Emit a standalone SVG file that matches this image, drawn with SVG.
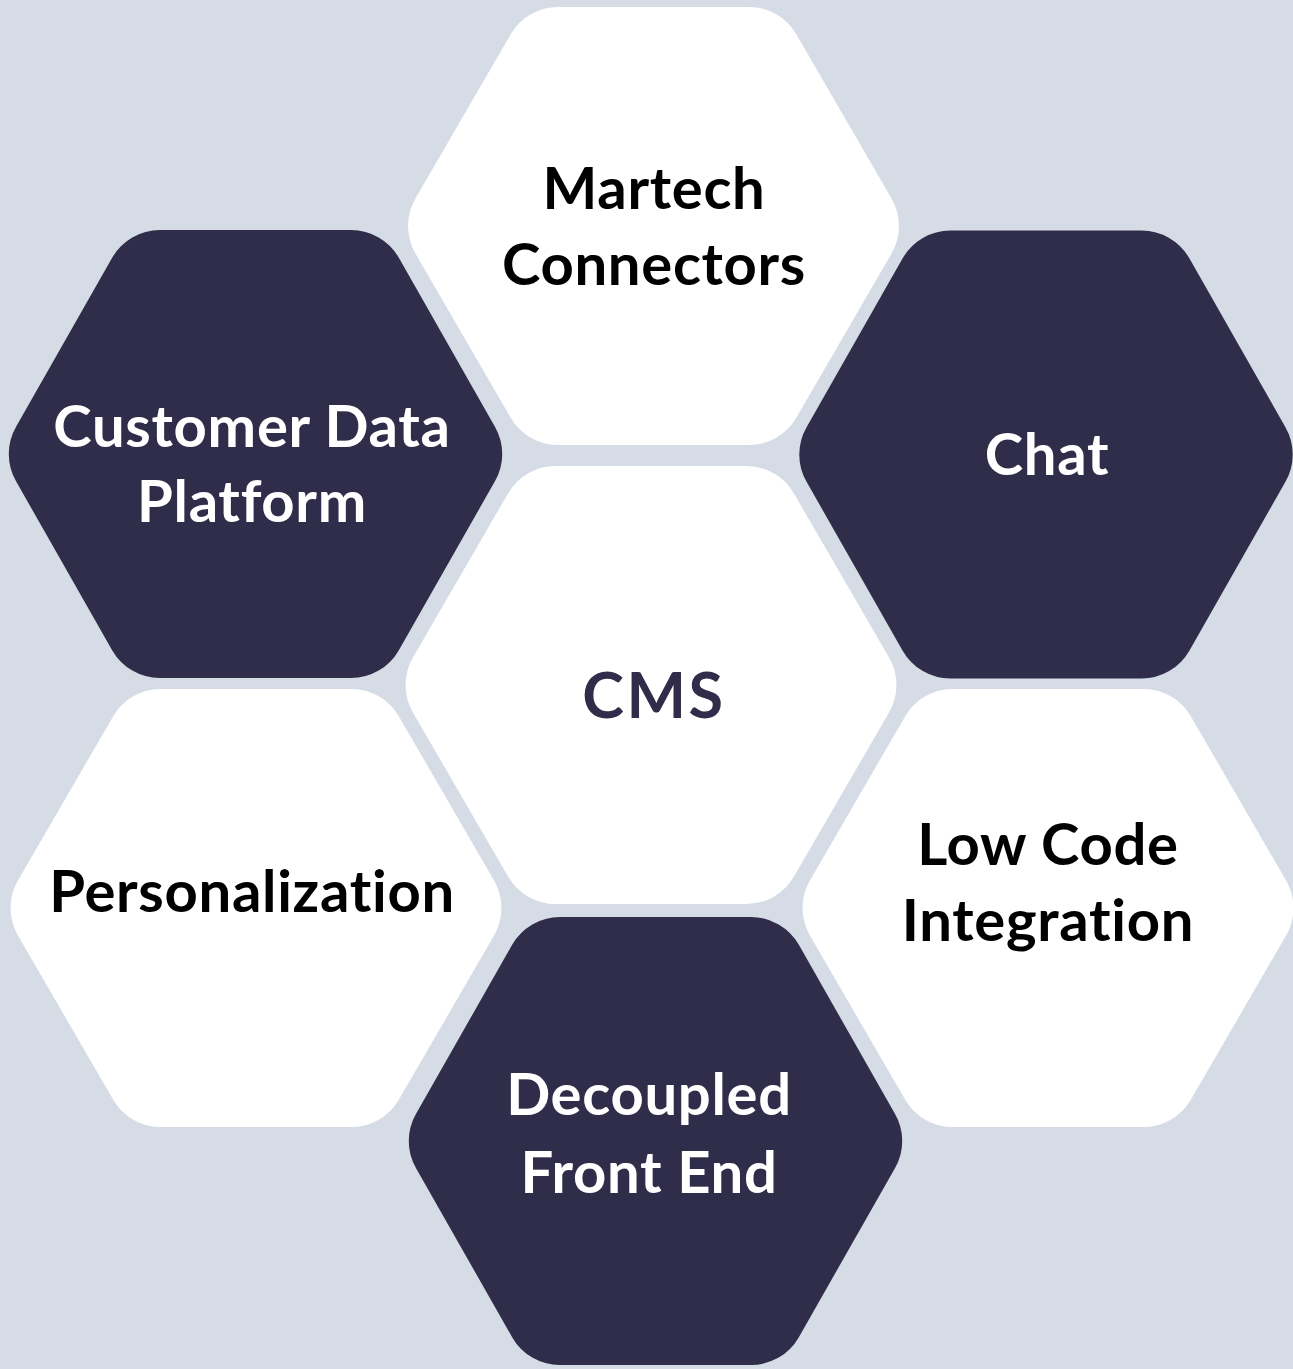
<svg xmlns="http://www.w3.org/2000/svg" xmlns:xlink="http://www.w3.org/1999/xlink" width="1293" height="1369" viewBox="0 0 1293 1369">
  <style>
    .lbl { font-family: Lato, "Open Sans", "Liberation Sans", sans-serif; font-weight: 700; font-size: 58px; letter-spacing: 0.7px; text-anchor: middle; font-variant-ligatures: none; font-feature-settings: "liga" 0; }
    .on-light { fill: #000000; }
    .on-dark { fill: #FFFFFF; }
    .core { fill: #302D4A; font-size: 63px; letter-spacing: 2.5px; }
    .hex-light { fill: #FFFFFF; }
    .hex-dark { fill: #302D4A; }
  </style>
  <defs>
    <!-- rounded flat-top hexagons centred on the origin -->
    <path id="hexL" d="M -95.25 -219 L 95.25 -219 A 55 55 0 0 1 142.93 -191.54 L 238.07 -27.46 A 55 55 0 0 1 238.07 27.46 L 142.93 191.54 A 55 55 0 0 1 95.25 219 L -95.25 219 A 55 55 0 0 1 -142.93 191.54 L -238.07 27.46 A 55 55 0 0 1 -238.07 -27.46 L -142.93 -191.54 A 55 55 0 0 1 -95.25 -219 Z"/>
    <path id="hexD" d="M -95.75 -224 L 95.75 -224 A 55 55 0 0 1 143.21 -196.4 L 239.29 -27.6 A 55 55 0 0 1 239.29 27.6 L 143.21 196.4 A 55 55 0 0 1 95.75 224 L -95.75 224 A 55 55 0 0 1 -143.21 196.4 L -239.29 27.6 A 55 55 0 0 1 -239.29 -27.6 L -143.21 -196.4 A 55 55 0 0 1 -95.75 -224 Z"/>
  </defs>

  <rect width="1293" height="1369" fill="#D6DCE5"/>

  <g id="connectors"/>

  <g id="martech">
    <use xlink:href="#hexL" class="hex-light" transform="translate(653.5 226)"/>
    <text class="lbl on-light" x="654" y="209">Martech</text>
    <text class="lbl on-light" x="654" y="285">Connectors</text>
  </g>

  <g id="cdp">
    <use xlink:href="#hexD" class="hex-dark" transform="translate(255.5 454)"/>
    <text class="lbl on-dark" x="252" y="447">Customer Data</text>
    <text class="lbl on-dark" x="252" y="522">Platform</text>
  </g>

  <g id="chat">
    <use xlink:href="#hexD" class="hex-dark" transform="translate(1046 454.5)"/>
    <text class="lbl on-dark" x="1047" y="475">Chat</text>
  </g>

  <g id="cms">
    <use xlink:href="#hexL" class="hex-light" transform="translate(651 685)"/>
    <text class="lbl core" x="654" y="718">CMS</text>
  </g>

  <g id="personalization">
    <use xlink:href="#hexL" class="hex-light" transform="translate(256 908)"/>
    <text class="lbl on-light" x="252" y="912">Personalization</text>
  </g>

  <g id="lowcode">
    <use xlink:href="#hexL" class="hex-light" transform="translate(1048 908)"/>
    <text class="lbl on-light" x="1048" y="865">Low Code</text>
    <text class="lbl on-light" x="1048" y="941">Integration</text>
  </g>

  <g id="frontend">
    <use xlink:href="#hexD" class="hex-dark" transform="translate(655.5 1141)"/>
    <text class="lbl on-dark" x="649" y="1115">Decoupled</text>
    <text class="lbl on-dark" x="649" y="1193">Front End</text>
  </g>
</svg>
